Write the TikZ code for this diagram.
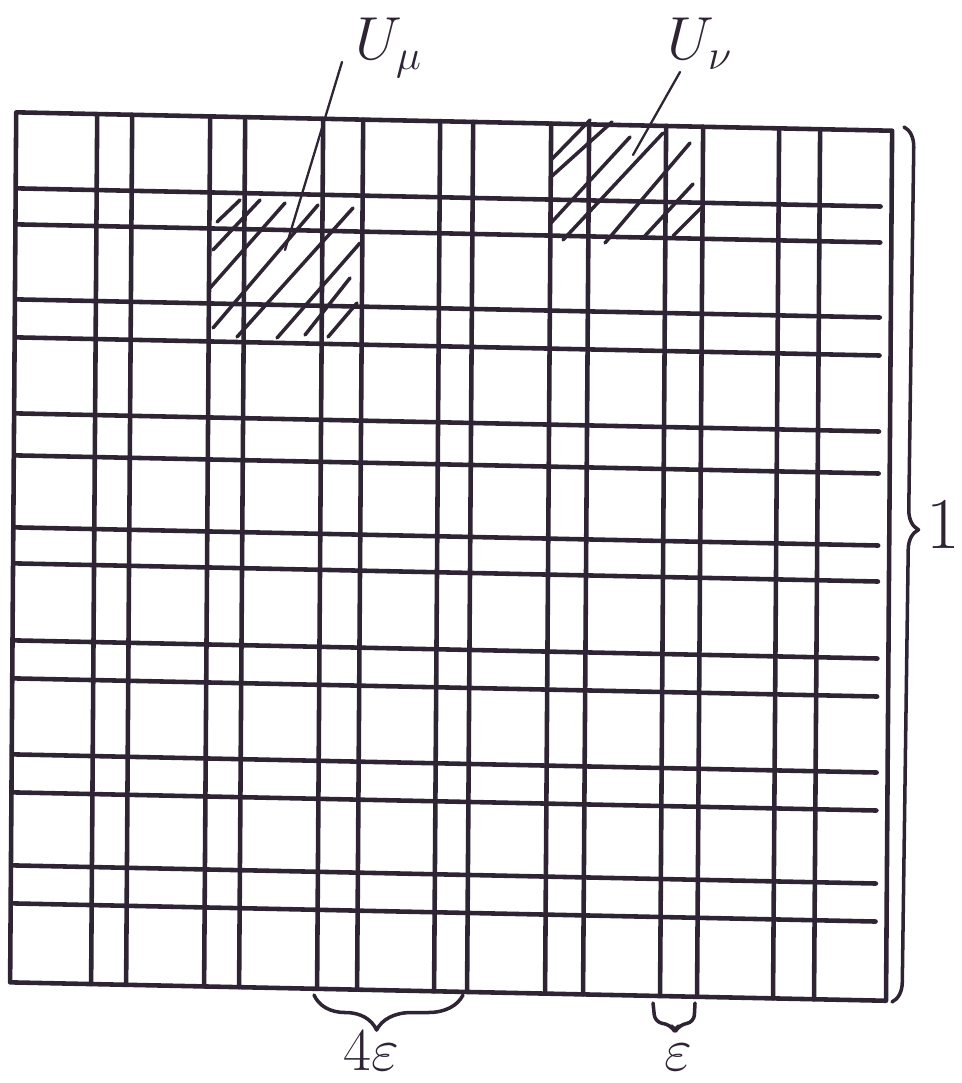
\documentclass[tikz,border=0pt]{standalone}
\usepackage{tikz}
\usetikzlibrary{decorations.pathreplacing}
\usepackage{amsmath,amssymb}
\usepackage{xcolor}
\definecolor{ink}{RGB}{46,36,52}
\tikzstyle{gridline} = [ink, 
line width=1.3pt, 
line cap=round, 
line join=round]
\tikzstyle{hatch} = [ink, 
line width=1pt, 
line cap=round]
\tikzstyle{leader} = [ink, 
line width=0.65pt, 
line cap=round]
\tikzstyle{handtext} = [ink, 
inner sep=0pt, 
anchor=base west]
\tikzstyle{bracket} = [ink, 
line width=1pt, 
line cap=round, 
line join=round]

\begin{document}
\begin{tikzpicture}[x=0.01cm, y=-0.01cm]
	\useasboundingbox (0,0) rectangle (962,1083);
	
	% the square, a little askew as on the paper
	\begin{scope}[xslant=0.007, yslant=-0.021]
	\draw [gridline] (17,112) -- (893,112) -- (893,982) -- (17,982) -- cycle;
	
	\draw [gridline] (98,112) -- (98,982) (133,112) -- (133,982);
	\draw [gridline] (211,112) -- (211,982) (246,112) -- (246,982);
	\draw [gridline] (324,112) -- (324,982) (364,112) -- (364,982);
	\draw [gridline] (441,112) -- (441,982) (474,112) -- (474,982);
	\draw [gridline] (552,112) -- (552,982) (590,112) -- (590,982);
	\draw [gridline] (667,112) -- (667,982) (704,112) -- (704,982);
	\draw [gridline] (780,112) -- (780,982) (821,112) -- (821,982);
	
	\draw [gridline] (18,188) -- (882,188) (18,224) -- (882,224);
	\draw [gridline] (18,299) -- (882,299) (18,337) -- (882,337);
	\draw [gridline] (18,413) -- (882,413) (18,455) -- (882,455);
	\draw [gridline] (18,527) -- (882,527) (18,563) -- (882,563);
	\draw [gridline] (18,640) -- (882,640) (18,678) -- (882,678);
	\draw [gridline] (18,754) -- (882,754) (18,792) -- (882,792);
	\draw [gridline] (18,865) -- (882,865) (18,903) -- (882,903);
	\end{scope}
	
	% hatching of U_mu
	\draw [hatch] (217,222) -- (240,200);
	\draw [hatch] (213,250) -- (260,200);
	\draw [hatch] (210,288) -- (285,203);
	\draw [hatch] (213,328) -- (318,205);
	\draw [hatch] (237,337) -- (353,208);
	\draw [hatch] (277,338) -- (360,243);
	\draw [hatch] (305,335) -- (350,278);
	\draw [hatch] (328,337) -- (357,303);
	% hatching of U_nu
	\draw [hatch] (552,159) -- (590,120);
	\draw [hatch] (552,176) -- (612,122);
	\draw [hatch] (550,224) -- (630,137);
	\draw [hatch] (563,240) -- (663,133);
	\draw [hatch] (605,243) -- (690,143);
	\draw [hatch] (643,238) -- (693,184);
	\draw [hatch] (673,236) -- (703,206);
	
	\node (umu) [handtext, font=\LARGE] at (355,60) {$U_\mu$};
	\node (unu) [handtext, font=\LARGE] at (667,60) {$U_\nu$};
	\node (one) [handtext, font=\huge] at (926,548) {1};
	\node (four) [handtext, font=\LARGE] at (343,1070) {$4\varepsilon$};
	\node (eps) [handtext, font=\LARGE] at (664,1070) {$\varepsilon$};
	
	\coordinate (tipmu) at (285,250);
	\coordinate (tipnu) at (633,155);
	\draw [leader] ([shift={(-13,2)}]umu.base west) -- (tipmu);
	\draw [leader] ([shift={(13,12)}]unu.base west) -- (tipnu);
	
	% braces
	\coordinate (r1) at (904,127);
	\coordinate (r2) at (892,1002);
	\coordinate (f1) at (463,995);
	\coordinate (f2) at (314,995);
	\coordinate (e1) at (695,1003);
	\coordinate (e2) at (653,1003);
	\draw [bracket, decorate, decoration={brace, amplitude=0.2cm, aspect=0.46}] (r1) -- (r2);
	\draw [bracket, decorate, decoration={brace, amplitude=0.35cm, aspect=0.58}] (f1) -- (f2);
	\draw [bracket, rounded corners=2] (e1) -- (694,1022) -- (679,1025) -- (675,1032) -- (671,1025) -- (655,1022) -- (e2);
	
\end{tikzpicture}
\end{document}
